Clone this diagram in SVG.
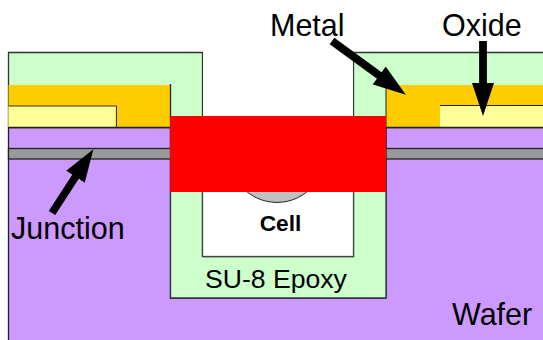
<svg xmlns="http://www.w3.org/2000/svg" width="543" height="340" viewBox="0 0 543 340">
<style>
text{font-family:"Liberation Sans",Arial,sans-serif;fill:#000}
.l{font-size:30.500px}
.o{stroke:#222;stroke-width:1.300}
.a{stroke:#000;stroke-width:7.800;fill:none;marker-end:url(#ah)}
</style>
<defs>
<marker id="ah" markerUnits="userSpaceOnUse" markerWidth="34" markerHeight="22" refX="1" refY="11" orient="auto"><path d="M0 0L33 11L0 22Z" fill="#000"/></marker>
</defs>
<rect width="543" height="340" fill="#fff"/>
<g id="wafer">
<path d="M8.500 127.500H170.500V298H386V127.500H544V341H8.500Z" fill="#cc99ff" stroke="#222" stroke-width="1.300"/>
</g>
<g id="epoxy">
<path d="M8.500 127V52.500H202.500V256.500H353.500V52.500H544V127H386V298H170.500V127Z" fill="#ccffcc" stroke="#333" stroke-width="1.300"/>
</g>
<g id="cell-cavity">
<rect x="202.500" y="150" width="151" height="106.500" fill="#fff" stroke="#444" stroke-width="1.300"/>
<rect x="203.200" y="52" width="149.600" height="110" fill="#fff"/>
<path d="M240 185A48 48 0 0 0 314 185Z" fill="#c0c0c0" stroke="#222" stroke-width="1"/>
<text x="280.500" y="231" text-anchor="middle" font-size="22.700" font-weight="bold">Cell</text>
</g>
<g id="metal-left">
<rect x="8.500" y="85" width="162" height="42" fill="#ffcc00"/>
<path d="M170.500 84V127" stroke="#222" stroke-width="1.300"/>
</g>
<g id="oxide-left">
<rect x="8.500" y="106" width="107" height="21" fill="#ffff99"/>
<path d="M8.500 106H116.500V127" fill="none" stroke="#333" stroke-width="1"/>
<path d="M8.500 127.500H170.500" stroke="#222" stroke-width="1.300"/>
</g>
<g id="metal-right">
<rect x="386" y="85" width="158" height="42" fill="#ffcc00"/>
<path d="M386 85V127" stroke="#222" stroke-width="1"/>
</g>
<g id="oxide-right">
<rect x="440" y="106" width="104" height="21" fill="#ffff99"/>
<path d="M440 105.500H544" stroke="#222" stroke-width="1.200"/>
<path d="M386 127.500H544" stroke="#222" stroke-width="1.300"/>
</g>
<g id="junction-left"><rect x="8.500" y="148.500" width="162" height="10.500" fill="#999" class="o"/></g>
<g id="junction-right"><rect x="386" y="148.500" width="158" height="10.500" fill="#999" class="o"/></g>
<g id="contact"><rect x="170" y="116" width="216" height="76" fill="#ff0000"/></g>
<g id="connectors">
<path class="a" d="M52 213L76 176"/>
<path class="a" d="M332 41L380 76"/>
<path class="a" d="M483 41V84"/>
</g>
<g id="labels">
<text class="l" x="270" y="36">Metal</text>
<text class="l" x="442" y="36">Oxide</text>
<text class="l" x="11" y="239">Junction</text>
<text x="205" y="288" font-size="26.600">SU-8 Epoxy</text>
<text class="l" x="452" y="325">Wafer</text>
</g>
</svg>
